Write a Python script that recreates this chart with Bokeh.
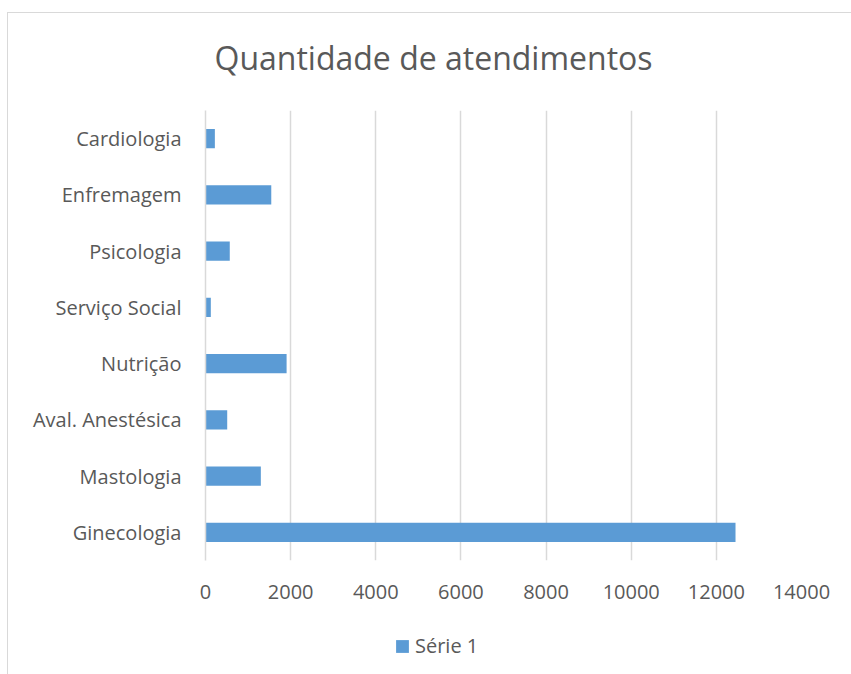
from bokeh.plotting import figure
from bokeh.layouts import column
from bokeh.models import Range1d, FactorRange, FixedTicker, Legend, LegendItem, ColumnDataSource
from bokeh.embed import file_html
from bokeh.resources import INLINE

categories = ["Ginecologia", "Mastologia", "Aval. Anestésica", "Nutrição",
              "Serviço Social", "Psicologia", "Enfremagem", "Cardiologia"]
values = [12450, 1300, 510, 1905, 125, 570, 1545, 220]
x_ticks = [0, 2000, 4000, 6000, 8000, 10000, 12000, 14000]
x_tick_labels = ["0", "2000", "4000", "6000", "8000", "10000", "12000", "14000"]
series_name = "Série 1"
title_text = "Quantidade de atendimentos"

FONT = "Open Sans"
TXT = "#595959"
GRID = "#D9D9D9"
BLUE = "#5B9BD5"

W, H1, H2 = 851, 620, 54
p = figure(width=W, height=H1, output_backend="svg", toolbar_location=None,
           y_range=FactorRange(*categories), x_range=Range1d(x_ticks[0], x_ticks[-1]),
           min_border_left=205, min_border_right=50, min_border_top=110, min_border_bottom=60)
p.outline_line_color = None
p.border_fill_color = None
p.background_fill_color = None

p.title.text = title_text
p.title.text_font = FONT
p.title.text_font_size = "32px"
p.title.text_font_style = "normal"
p.title.text_color = TXT
p.title.align = "left"
p.title.offset = 9
p.title.standoff = 63

src = ColumnDataSource(dict(cat=categories, val=values))
r = p.hbar(y="cat", right="val", left=0, height=0.34, source=src,
           fill_color=BLUE, line_color=None)

p.xaxis.ticker = FixedTicker(ticks=x_ticks)
p.xaxis.major_label_overrides = {t: l for t, l in zip(x_ticks, x_tick_labels)}
p.xaxis.axis_line_color = None
p.xaxis.major_tick_line_color = None
p.xaxis.minor_tick_line_color = None
p.xaxis.major_label_text_font = FONT
p.xaxis.major_label_text_font_size = "20px"
p.xaxis.major_label_text_color = TXT
p.xaxis.major_label_standoff = 18

p.yaxis.axis_line_color = GRID
p.yaxis.axis_line_width = 1.5
p.yaxis.major_tick_line_color = None
p.yaxis.minor_tick_line_color = None
p.yaxis.major_label_text_font = FONT
p.yaxis.major_label_text_font_size = "20px"
p.yaxis.major_label_text_color = TXT
p.yaxis.major_label_standoff = 18

p.xgrid.grid_line_color = GRID
p.xgrid.grid_line_width = 1.5
p.ygrid.grid_line_color = None

# legend strip below the chart (its renderer is hidden; only the legend key shows)
p2 = figure(width=W, height=H2, output_backend="svg", toolbar_location=None,
            y_range=FactorRange(*categories), x_range=Range1d(x_ticks[0], x_ticks[-1]),
            min_border_left=0, min_border_right=0, min_border_top=0, min_border_bottom=0)
p2.axis.visible = False
p2.grid.visible = False
p2.outline_line_color = None
p2.border_fill_color = None
p2.background_fill_color = None
r2 = p2.hbar(y="cat", right="val", left=0, height=0.34, source=src,
             fill_color=BLUE, line_color=None, visible=False)

legend = Legend(items=[LegendItem(label=series_name, renderers=[r2])],
                location=(189, 15), orientation="horizontal",
                glyph_width=16, glyph_height=16, label_standoff=5,
                padding=0, margin=0, border_line_color=None, background_fill_alpha=0,
                label_text_font=FONT, label_text_font_size="20px", label_text_color=TXT)
p2.add_layout(legend, "center")

layout = column(p, p2, spacing=0)
layout.styles = {
    "background-color": "white",
    "background-image": "linear-gradient(#D9D9D9, #D9D9D9), linear-gradient(#D9D9D9, #D9D9D9)",
    "background-size": "100% 1px, 1px 100%",
    "background-position": "7px 12px, 7px 12px",
    "background-repeat": "no-repeat",
}

open("out.html", "w").write(file_html(layout, INLINE))
